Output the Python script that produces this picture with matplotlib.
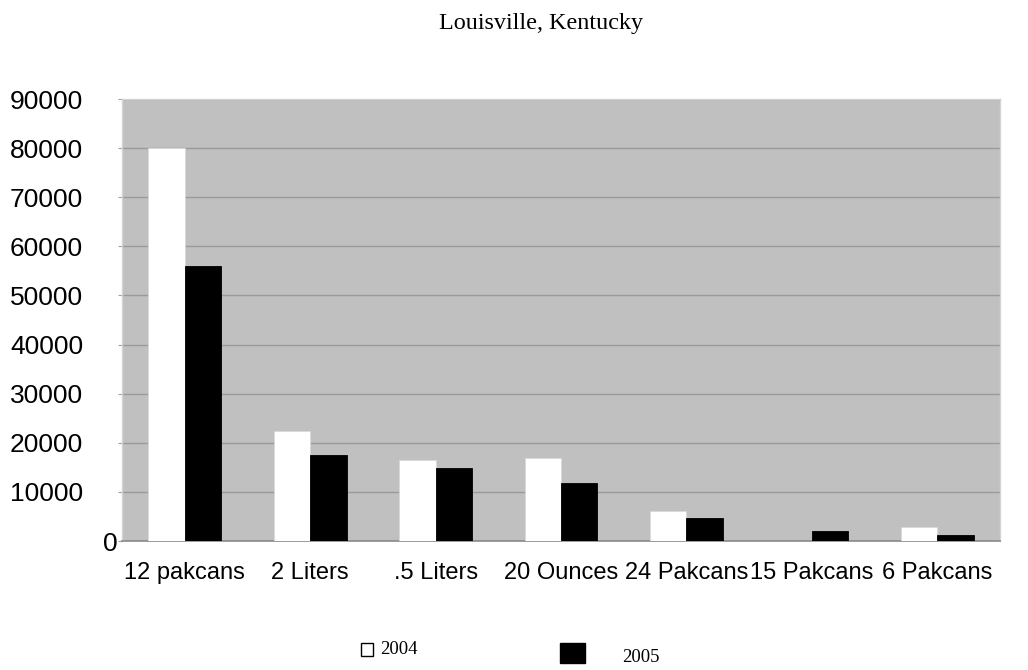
import matplotlib
matplotlib.use("Agg")
import matplotlib.pyplot as plt
import numpy as np
from matplotlib.patches import Rectangle

categories = ["12 pakcans", "2 Liters", ".5 Liters", "20 Ounces", "24 Pakcans", "15 Pakcans", "6 Pakcans"]
values_2004 = [80000, 22400, 16500, 16900, 6100, 0, 2900]
values_2005 = [56000, 17500, 14900, 11800, 4700, 2000, 1200]
yticks = [0, 10000, 20000, 30000, 40000, 50000, 60000, 70000, 80000, 90000]
title = "Louisville, Kentucky"
series_names = ["2004", "2005"]

fig = plt.figure(figsize=(10.28, 6.70), dpi=100)
ax = fig.add_axes([0.1187, 0.1925, 0.854, 0.6597])
ax.set_facecolor("#c0c0c0")

x = np.arange(len(categories))
w = 0.29
ax.bar(x - w, values_2004, width=w, align="edge", color="white", edgecolor="#d8d8d8", linewidth=0.6, zorder=3)
ax.bar(x, values_2005, width=w, align="edge", color="black", edgecolor="black", linewidth=0.6, zorder=3)

ax.set_xlim(-0.5, len(categories) - 0.5)
ax.set_ylim(0, 90000)
ax.set_yticks(yticks)
ax.set_yticklabels([str(v) for v in yticks], fontfamily="Liberation Sans", fontsize=19)
ax.set_xticks(x)
ax.set_xticklabels(categories, fontfamily="Liberation Sans", fontsize=17)
ax.tick_params(axis="x", length=0, pad=15)
ax.tick_params(axis="y", length=3, color="#a0a0a0", pad=25)
ax.yaxis.get_major_ticks()[0].set_pad(0)
ax.grid(axis="y", color="#9a9a9a", linewidth=1.0, zorder=1)
for s in ["left", "top", "right"]:
    ax.spines[s].set_color("#d4d4d4")
    ax.spines[s].set_linewidth(1.0)
ax.spines["bottom"].set_color("#8a8a8a")
ax.spines["bottom"].set_linewidth(1.2)

fig.text(0.526, 0.965, title, ha="center", va="center", fontfamily="Liberation Serif", fontsize=17.4)

# legend
fig.patches.append(Rectangle((361 / 1028, 1 - 656 / 670), 12 / 1028, 13 / 670, transform=fig.transFigure,
                             facecolor="white", edgecolor="black", linewidth=1.0))
fig.text(380 / 1028, 1 - 649 / 670, series_names[0], ha="left", va="center", fontfamily="Liberation Serif", fontsize=13.5)
fig.patches.append(Rectangle((560 / 1028, 1 - 663 / 670), 25 / 1028, 20 / 670, transform=fig.transFigure,
                             facecolor="black", edgecolor="black", linewidth=1.0))
fig.text(622 / 1028, 1 - 658 / 670, series_names[1], ha="left", va="center", fontfamily="Liberation Serif", fontsize=13.5)

fig.savefig("out.png", dpi=100)
